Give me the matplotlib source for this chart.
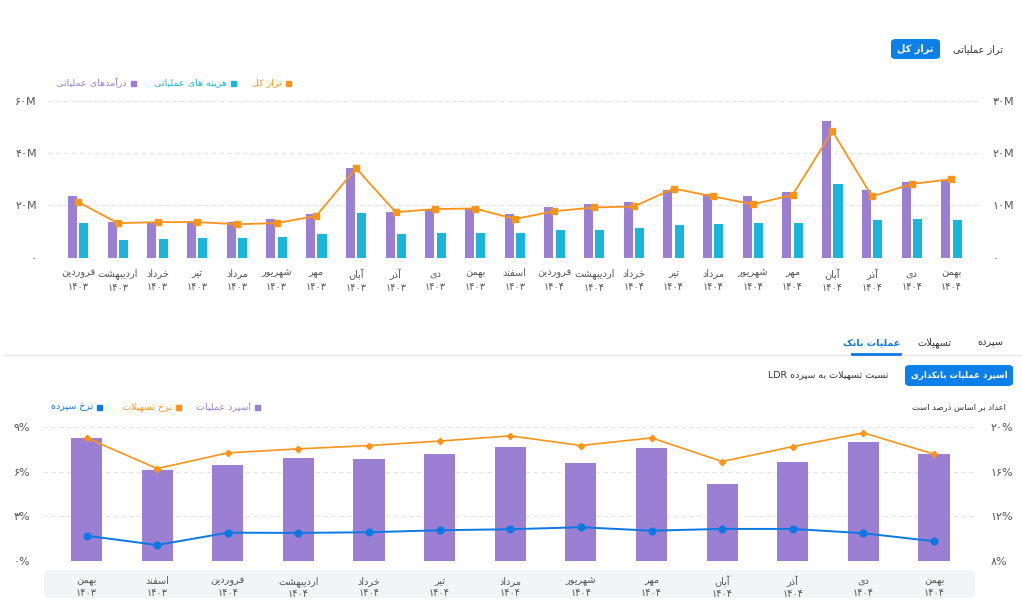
import re

import matplotlib

matplotlib.use("Agg")
import matplotlib.pyplot as plt
import numpy as np
from matplotlib.lines import Line2D
from matplotlib.patches import FancyBboxPatch

plt.rcParams["font.family"] = ["DejaVu Sans"]

# ---- data (top chart, millions) ----
months_top = ["فروردین", "اردیبهشت", "خرداد", "تیر", "مرداد", "شهریور", "مهر", "آبان",
              "آذر", "دی", "بهمن", "اسفند",
              "فروردین", "اردیبهشت", "خرداد", "تیر", "مرداد", "شهریور", "مهر", "آبان",
              "آذر", "دی", "بهمن"]
years_top = ["1403"] * 12 + ["1404"] * 11
revenue = [23.6, 13.5, 13.8, 14.0, 13.8, 14.8, 16.7, 34.4, 17.6, 18.6, 18.9, 16.7,
           19.3, 20.6, 21.2, 25.9, 24.5, 23.6, 25.1, 52.4, 26.0, 28.8, 29.6]
cost = [13.3, 6.8, 7.2, 7.4, 7.4, 8.0, 8.9, 17.2, 8.9, 9.6, 9.6, 9.3,
        10.7, 10.7, 11.4, 12.5, 12.9, 13.3, 13.3, 28.2, 14.4, 14.7, 14.4]
balance = [10.65, 6.6, 6.8, 6.8, 6.4, 6.6, 8.0, 17.1, 8.7, 9.3, 9.4, 7.4,
           8.9, 9.6, 9.8, 13.2, 11.7, 10.2, 12.0, 24.2, 11.7, 14.1, 15.0]
left_ticks_top = [0, 20, 40, 60]
right_ticks_top = [0, 10, 20, 30]

# ---- data (bottom chart, percent) ----
months_bot = ["بهمن", "اسفند", "فروردین", "اردیبهشت", "خرداد", "تیر", "مرداد",
              "شهریور", "مهر", "آبان", "آذر", "دی", "بهمن"]
years_bot = ["1403", "1403"] + ["1404"] * 11
spread = [8.29, 6.13, 6.45, 6.94, 6.89, 7.21, 7.68, 6.62, 7.59, 5.20, 6.67, 8.02, 7.21]
loan_rate = [19.05, 16.29, 17.70, 18.06, 18.36, 18.76, 19.23, 18.36, 19.05, 16.92,
             18.27, 19.5, 17.59]
deposit_rate = [10.25, 9.41, 10.52, 10.50, 10.56, 10.74, 10.83, 11.01, 10.70, 10.86,
                10.86, 10.47, 9.75]
left_ticks_bot = [0, 3, 6, 9]
right_ticks_bot = [8, 12, 16, 20]

PURPLE = "#9a7fd3"
CYAN = "#1ab5db"
ORANGE = "#fa9419"
BLUE = "#0b78e3"
BTN = "#0d7fe8"
TXT = "#333333"
TICK = "#555555"
GRID = "#e2e2ea"

# ---- minimal Persian shaping (matplotlib does no arabic shaping / bidi) ----
FORMS = {
    "\u0627": ("\uFE8D", "\uFE8E", None, None),
    "\u0622": ("\uFE81", "\uFE82", None, None),
    "\u062F": ("\uFEA9", "\uFEAA", None, None),
    "\u0630": ("\uFEAB", "\uFEAC", None, None),
    "\u0631": ("\uFEAD", "\uFEAE", None, None),
    "\u0632": ("\uFEAF", "\uFEB0", None, None),
    "\u0698": ("\uFB8A", "\uFB8B", None, None),
    "\u0648": ("\uFEED", "\uFEEE", None, None),
    "\u0628": ("\uFE8F", "\uFE90", "\uFE91", "\uFE92"),
    "\u067E": ("\uFB56", "\uFB57", "\uFB58", "\uFB59"),
    "\u062A": ("\uFE95", "\uFE96", "\uFE97", "\uFE98"),
    "\u062B": ("\uFE99", "\uFE9A", "\uFE9B", "\uFE9C"),
    "\u062C": ("\uFE9D", "\uFE9E", "\uFE9F", "\uFEA0"),
    "\u0686": ("\uFB7A", "\uFB7B", "\uFB7C", "\uFB7D"),
    "\u062D": ("\uFEA1", "\uFEA2", "\uFEA3", "\uFEA4"),
    "\u062E": ("\uFEA5", "\uFEA6", "\uFEA7", "\uFEA8"),
    "\u0633": ("\uFEB1", "\uFEB2", "\uFEB3", "\uFEB4"),
    "\u0634": ("\uFEB5", "\uFEB6", "\uFEB7", "\uFEB8"),
    "\u0635": ("\uFEB9", "\uFEBA", "\uFEBB", "\uFEBC"),
    "\u0636": ("\uFEBD", "\uFEBE", "\uFEBF", "\uFEC0"),
    "\u0637": ("\uFEC1", "\uFEC2", "\uFEC3", "\uFEC4"),
    "\u0638": ("\uFEC5", "\uFEC6", "\uFEC7", "\uFEC8"),
    "\u0639": ("\uFEC9", "\uFECA", "\uFECB", "\uFECC"),
    "\u063A": ("\uFECD", "\uFECE", "\uFECF", "\uFED0"),
    "\u0641": ("\uFED1", "\uFED2", "\uFED3", "\uFED4"),
    "\u0642": ("\uFED5", "\uFED6", "\uFED7", "\uFED8"),
    "\u06A9": ("\uFB8E", "\uFB8F", "\uFB90", "\uFB91"),
    "\u06AF": ("\uFB92", "\uFB93", "\uFB94", "\uFB95"),
    "\u0644": ("\uFEDD", "\uFEDE", "\uFEDF", "\uFEE0"),
    "\u0645": ("\uFEE1", "\uFEE2", "\uFEE3", "\uFEE4"),
    "\u0646": ("\uFEE5", "\uFEE6", "\uFEE7", "\uFEE8"),
    "\u0647": ("\uFEE9", "\uFEEA", "\uFEEB", "\uFEEC"),
    "\u06CC": ("\uFBFC", "\uFBFD", "\uFBFE", "\uFBFF"),
}


def _dual(c):
    return c in FORMS and FORMS[c][2] is not None


def fa(s):
    out = []
    i = 0
    while i < len(s):
        c = s[i]
        if c not in FORMS:
            out.append(c)
            i += 1
            continue
        pc = i > 0 and _dual(s[i - 1])
        if c == "\u0644" and i + 1 < len(s) and s[i + 1] == "\u0627":
            out.append("\uFEFC" if pc else "\uFEFB")
            i += 2
            continue
        nc = _dual(c) and i + 1 < len(s) and s[i + 1] in FORMS
        iso, fin, ini, med = FORMS[c]
        out.append(med if pc and nc else fin if pc else ini if nc else iso)
        i += 1
    vis = "".join(out)[::-1]
    return re.sub(r"[A-Za-z0-9\u06F0-\u06F9]+", lambda m: m.group(0)[::-1], vis)


def fa_num(s):
    return str(s).translate(str.maketrans("0123456789", "۰۱۲۳۴۵۶۷۸۹"))


def fx(px):
    return px / 1022


def fy(py):
    return 1 - py / 608


fig = plt.figure(figsize=(10.22, 6.08), dpi=100)
fig.patch.set_facecolor("white")


def button(x0, y0, x1, y1, label, size):
    fig.add_artist(FancyBboxPatch((fx(x0), fy(y1)), fx(x1 - x0), (y1 - y0) / 608,
                                  boxstyle="round,pad=0,rounding_size=0.005",
                                  transform=fig.transFigure, fc=BTN, ec="none", zorder=-1))
    fig.text(fx((x0 + x1) / 2), fy((y0 + y1) / 2), fa(label), color="white",
             fontsize=size, fontweight="bold", ha="center", va="center")


def legend_item(xsq, y, color, label):
    fig.add_artist(Line2D([fx(xsq)], [fy(y)], marker="s", ms=3.6, color=color,
                          transform=fig.transFigure))
    fig.text(fx(xsq - 6), fy(y), fa(label), color=color, fontsize=6.8,
             ha="right", va="center")


def style_axes(a):
    for sp in a.spines.values():
        sp.set_visible(False)
    a.tick_params(length=0, labelsize=8, labelcolor=TICK)


# ---------------- top chart ----------------
button(891, 39, 940, 59, "تراز کل", 7)
fig.text(fx(1003), fy(49), fa("تراز عملیاتی"), fontsize=7, color=TXT,
         ha="right", va="center")
legend_item(133, 83, PURPLE, "درآمدهای عملیاتی")
legend_item(233, 83, CYAN, "هزینه های عملیاتی")
legend_item(288, 83, ORANGE, "تراز کل")

ax = fig.add_axes([fx(48), fy(257.7), fx(980 - 48), (257.7 - 100.7) / 608])
x = np.arange(len(months_top))
ax.bar(x - 0.143, revenue, width=0.228, color=PURPLE, zorder=2)
ax.bar(x + 0.143, cost, width=0.228, color=CYAN, zorder=2)
ax.set_xlim(-0.76, 22.72)
ax.set_ylim(0, 60)
ax.set_yticks(left_ticks_top)
ax.set_yticklabels([fa_num(t) + ("M" if t else "") for t in left_ticks_top])
ax.set_xticks(x)
ax.set_xticklabels([fa(m) + "\n" + fa_num(y) for m, y in zip(months_top, years_top)],
                   linespacing=1.45)
ax.yaxis.grid(True, ls=(0, (4, 3)), color=GRID, lw=0.8)
ax.set_axisbelow(True)
style_axes(ax)
ax.tick_params(axis="y", pad=8)
ax.tick_params(axis="x", pad=7.5, labelsize=7)

ax2 = ax.twinx()
ax2.plot(x, balance, color=ORANGE, lw=1.3, marker="s", ms=4.8, zorder=3)
ax2.set_ylim(0, 30)
ax2.set_yticks(right_ticks_top)
ax2.set_yticklabels([fa_num(t) + ("M" if t else "") for t in right_ticks_top])
style_axes(ax2)
ax2.tick_params(axis="y", pad=9)

# ---------------- tabs / bottom header ----------------
fig.add_artist(Line2D([0.003, 1], [fy(355), fy(355)], color="#e6e6ee", lw=1,
                      transform=fig.transFigure))
fig.add_artist(Line2D([fx(852), fx(900)], [fy(354), fy(354)], color=BLUE, lw=2,
                      transform=fig.transFigure))
fig.text(fx(1003), fy(343), fa("سپرده"), fontsize=7, color=TXT, ha="right", va="center")
fig.text(fx(952), fy(343), fa("تسهیلات"), fontsize=7, color=TXT, ha="right", va="center")
fig.text(fx(900), fy(343), fa("عملیات بانک"), fontsize=6.8, color=BLUE,
         fontweight="bold", ha="right", va="center")
button(905, 365, 1013, 386, "اسپرد عملیات بانکداری", 6.2)
fig.text(fx(888), fy(375), fa("نسبت تسهیلات به سپرده LDR"), fontsize=6.8, color=TXT,
         ha="right", va="center")
fig.text(fx(1006), fy(407), fa("اعداد بر اساس درصد است"), fontsize=6, color=TXT,
         ha="right", va="center")
legend_item(257, 407, PURPLE, "اسپرد عملیات")
legend_item(178, 407, ORANGE, "نرخ تسهیلات")
legend_item(99, 407, BLUE, "نرخ سپرده")

# ---------------- bottom chart ----------------
fig.add_artist(FancyBboxPatch((fx(44), fy(598)), fx(931), 28 / 608,
                              boxstyle="round,pad=0,rounding_size=0.006",
                              transform=fig.transFigure, fc="#f3f4f8", ec="none",
                              zorder=-1))
bx = fig.add_axes([fx(43), fy(560.7), fx(975 - 43), (560.7 - 427.3) / 608])
xb = np.arange(len(months_bot))
bx.bar(xb, spread, width=0.44, color=PURPLE, zorder=2)
bx.set_xlim(-0.616, 12.58)
bx.set_ylim(0, 9)
bx.set_yticks(left_ticks_bot)
bx.set_yticklabels([fa_num(t) + "%" for t in left_ticks_bot])
bx.set_xticks(xb)
bx.set_xticklabels([fa(m) + "\n" + fa_num(y) for m, y in zip(months_bot, years_bot)],
                   linespacing=1.2)
bx.yaxis.grid(True, ls=(0, (4, 3)), color=GRID, lw=0.8)
bx.set_axisbelow(True)
style_axes(bx)
bx.tick_params(axis="y", pad=9)
bx.tick_params(axis="x", pad=11, labelsize=7)

bx2 = bx.twinx()
bx2.plot(xb, loan_rate, color=ORANGE, lw=1.2, marker="D", ms=3.2, zorder=3)
bx2.plot(xb, deposit_rate, color=BLUE, lw=1.4, marker="o", ms=4.8, zorder=3)
bx2.set_ylim(8, 20)
bx2.set_yticks(right_ticks_bot)
bx2.set_yticklabels([fa_num(t) + "%" for t in right_ticks_bot])
style_axes(bx2)
bx2.tick_params(axis="y", pad=11)

fig.savefig("out.png", dpi=100, facecolor="white")
